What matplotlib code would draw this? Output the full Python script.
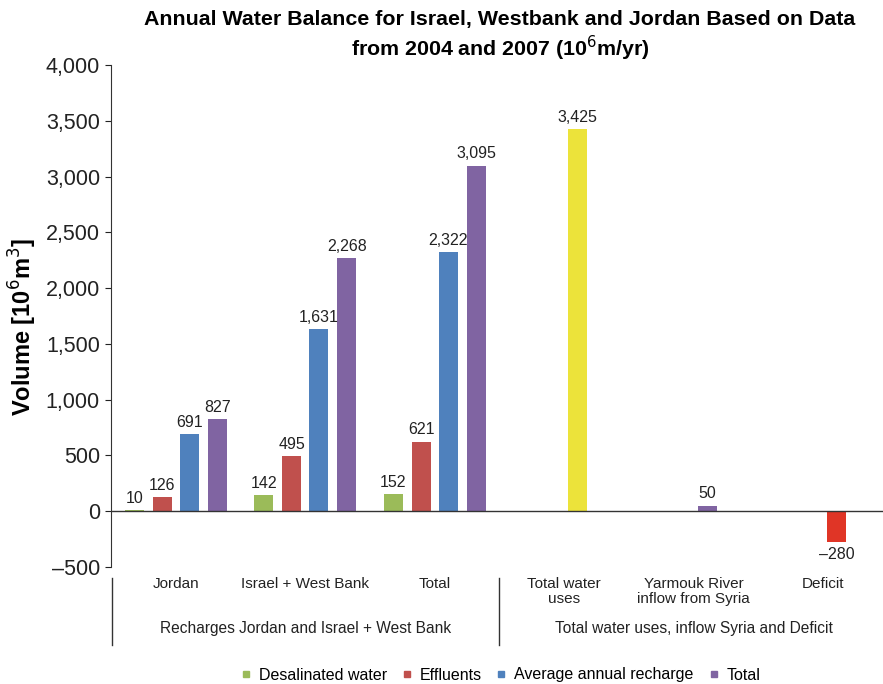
import matplotlib
matplotlib.use("Agg")
import matplotlib.pyplot as plt
from matplotlib.lines import Line2D
from matplotlib.ticker import FuncFormatter
import numpy as np

plt.rcParams['font.family'] = ['Liberation Sans', 'DejaVu Sans']

# data
categories = ["Jordan", "Israel + West Bank", "Total"]
series = ["Desalinated water", "Effluents", "Average annual recharge", "Total"]
desalinated = [10, 142, 152]
effluents = [126, 495, 621]
recharge = [691, 1631, 2322]
totals = [827, 2268, 3095]

other_categories = ["Total water\nuses", "Yarmouk River\ninflow from Syria", "Deficit"]
other_values = [3425, 50, -280]

group_labels = ["Recharges Jordan and Israel + West Bank",
                "Total water uses, inflow Syria and Deficit"]

colors = ["#9BBB59", "#C0504D", "#4F81BD", "#8064A2"]
other_colors = ["#ECE33A", "#8064A2", "#E03526"]

W, H = 883, 684
fig = plt.figure(figsize=(W / 100, H / 100), dpi=100)
ax = fig.add_axes([111 / W, (H - 567) / H, (W - 111) / W, (567 - 65) / H])

step = 129.5  # px per category
bw = 19 / step
offsets = np.array([-41.5, -13.5, 13.5, 41.5]) / step

fmt = lambda v: f"{v:,.0f}".replace("-", "\u2013")

for i, vals in enumerate([desalinated, effluents, recharge, totals]):
    x = np.arange(len(categories)) + offsets[i]
    ax.bar(x, vals, width=bw, color=colors[i], label=series[i], zorder=2)
    for xx, v in zip(x, vals):
        ax.text(xx, v + 40, fmt(v), ha='center', va='bottom', fontsize=11.5, color='#222222')

xo = np.arange(len(other_categories)) + 3 + offsets[2]
ax.bar(xo, other_values, width=bw, color=other_colors, zorder=2)
for xx, v in zip(xo, other_values):
    if v >= 0:
        ax.text(xx, v + 40, fmt(v), ha='center', va='bottom', fontsize=11.5, color='#222222')
    else:
        ax.text(xx, v - 40, fmt(v), ha='center', va='top', fontsize=11.5, color='#222222')

ax.set_xlim(-0.5, -0.5 + (W - 111) / step)
ax.set_ylim(-500, 4000)
ax.set_yticks(np.arange(-500, 4001, 500))
ax.yaxis.set_major_formatter(FuncFormatter(lambda v, p: fmt(v)))
ax.tick_params(axis='y', labelsize=15.5, length=4, direction='out', colors='#222222', pad=4)
ax.set_xticks([])
for s in ['top', 'right', 'bottom']:
    ax.spines[s].set_visible(False)
ax.spines['left'].set_color('#333333')
ax.axhline(0, color='#333333', lw=1, zorder=3)

fig.text(23 / W, 1 - 327 / H, "Volume [10$^6$m$^3$]", rotation=90, ha='center', va='center',
         fontsize=17, fontweight='bold')

# category labels below
all_cats = categories + other_categories
for i, c in enumerate(all_cats):
    fig.text((111 + step * (i + 0.5)) / W, 1 - 577 / H, c, ha='center', va='top',
             fontsize=11, color='#222222', linespacing=1.1)
for j, g in enumerate(group_labels):
    fig.text((111 + step * (3 * j + 1.5)) / W, 1 - 629 / H, g, ha='center', va='center',
             fontsize=11.2, color='#222222')
for xp in [111.5, 499.5]:
    fig.add_artist(Line2D([xp / W, xp / W], [1 - 578 / H, 1 - 645 / H], color='#333333', lw=1))

fig.suptitle("Annual Water Balance for Israel, Westbank and Jordan Based on Data\n"
             "from 2004 and 2007 (10$^6$m/yr)", x=500 / W, y=1 - 10 / H,
             fontsize=15.4, fontweight='bold', va='top', linespacing=1.2)

handles = [Line2D([], [], marker='s', ls='', color=c, markersize=5) for c in colors]
fig.legend(handles, series, loc='center', bbox_to_anchor=(499 / W, 1 - 675 / H), ncol=4,
           frameon=False, fontsize=11.5, handletextpad=0.3, columnspacing=0.75, handlelength=1)

fig.savefig("out.png", dpi=100)
